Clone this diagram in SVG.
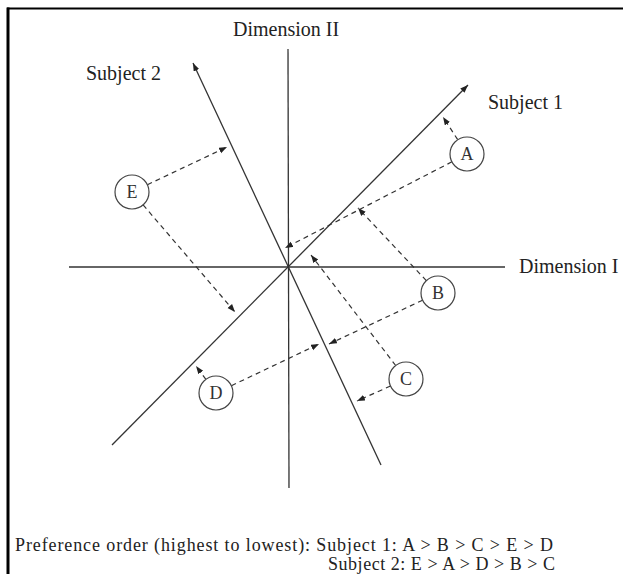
<svg xmlns="http://www.w3.org/2000/svg" width="623" height="574" viewBox="0 0 623 574">
<style>
.txt{font-family:"Liberation Serif","Times New Roman",serif;font-size:20px;fill:#222;}
.cap{font-family:"Liberation Serif","Times New Roman",serif;font-size:18px;fill:#222;}
.lbl{font-family:"Liberation Serif","Times New Roman",serif;font-size:18px;fill:#333;text-anchor:middle;}
.axis{stroke:#333;stroke-width:1.3;fill:none;}
.dash{stroke:#333;stroke-width:1.2;stroke-dasharray:5 4;fill:none;}
.node{fill:#fff;stroke:#444;stroke-width:1.2;}
</style>
<defs>
<marker id="ah" markerUnits="userSpaceOnUse" markerWidth="9" markerHeight="7" refX="8" refY="3" orient="auto">
<path d="M0,0 L8,3 L0,6 z" fill="#222"/>
</marker>
</defs>
<rect width="623" height="574" fill="#fff"/>
<g id="frame">
<line x1="7" y1="8.5" x2="623" y2="8.5" stroke="#000" stroke-width="2"/>
<line x1="8" y1="7.5" x2="8" y2="574" stroke="#000" stroke-width="3"/>
</g>
<g id="axes">
<line class="axis" x1="69" y1="267" x2="505" y2="267"/>
<line class="axis" x1="288" y1="49" x2="289" y2="488"/>
<line class="axis" x1="112" y1="445" x2="468" y2="85" marker-end="url(#ah)"/>
<line class="axis" x1="381" y1="465" x2="193" y2="63" marker-end="url(#ah)"/>
</g>
<g id="axis-labels">
<text class="txt" x="233" y="36">Dimension II</text>
<text class="txt" x="519" y="273">Dimension I</text>
<text class="txt" x="86" y="80">Subject 2</text>
<text class="txt" x="488" y="109">Subject 1</text>
</g>
<g id="connectors">
<line class="dash" x1="457.7" y1="139.7" x2="443" y2="117" marker-end="url(#ah)"/>
<line class="dash" x1="451.9" y1="161.8" x2="285" y2="248" marker-end="url(#ah)"/>
<line class="dash" x1="426.3" y1="280.6" x2="358" y2="208" marker-end="url(#ah)"/>
<line class="dash" x1="422.6" y1="300.2" x2="329" y2="344" marker-end="url(#ah)"/>
<line class="dash" x1="395.7" y1="365.5" x2="311" y2="255" marker-end="url(#ah)"/>
<line class="dash" x1="390.5" y1="386" x2="357" y2="401" marker-end="url(#ah)"/>
<line class="dash" x1="205.9" y1="379.3" x2="196" y2="366" marker-end="url(#ah)"/>
<line class="dash" x1="231.4" y1="385.7" x2="319" y2="344" marker-end="url(#ah)"/>
<line class="dash" x1="147.4" y1="184.7" x2="227" y2="147" marker-end="url(#ah)"/>
<line class="dash" x1="143.1" y1="204.9" x2="235" y2="312" marker-end="url(#ah)"/>
</g>
<g id="node-A"><circle class="node" cx="467" cy="154" r="17"/><text class="lbl" x="467" y="160">A</text></g>
<g id="node-B"><circle class="node" cx="438" cy="293" r="17"/><text class="lbl" x="438" y="299">B</text></g>
<g id="node-C"><circle class="node" cx="406" cy="379" r="17"/><text class="lbl" x="406" y="385">C</text></g>
<g id="node-D"><circle class="node" cx="216" cy="393" r="17"/><text class="lbl" x="216" y="399">D</text></g>
<g id="node-E"><circle class="node" cx="132" cy="192" r="17"/><text class="lbl" x="132" y="198">E</text></g>
<g id="caption">
<text class="cap" x="15" y="551" textLength="538" lengthAdjust="spacing">Preference order (highest to lowest): Subject 1: A &gt; B &gt; C &gt; E &gt; D</text>
<text class="cap" x="328" y="570" textLength="227" lengthAdjust="spacing">Subject 2: E &gt; A &gt; D &gt; B &gt; C</text>
</g>
</svg>
